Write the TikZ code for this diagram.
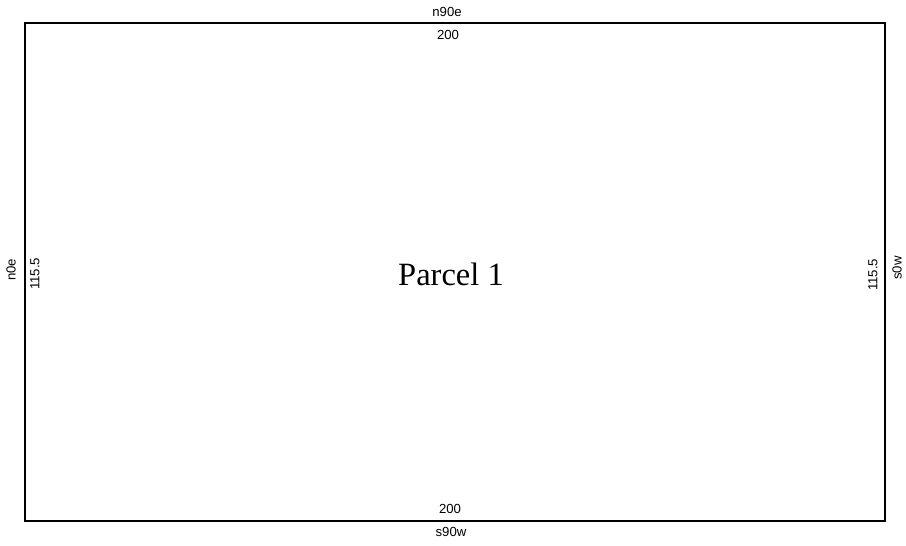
\documentclass[tikz,border=0pt]{standalone}
\usepackage{fontspec}
\setmainfont{Liberation Serif}
\newfontfamily\labelfont{Liberation Sans}
\usepackage{tikz}

\begin{document}
\begin{tikzpicture}[x=0.02cm,y=-0.02cm,
  side/.style={font=\labelfont\fontsize{7.5}{8}\selectfont,inner sep=0pt},
  vside/.style={side,rotate=90}]
  \useasboundingbox (0,0) rectangle (906,546);
  \draw[line width=1.4pt](25,23) rectangle (885,521);
  \node[font=\fontsize{18.5}{20}\selectfont] (parcel) at (451,274) {Parcel 1};
  \node[side] (topbearing) at (447,12) {n90e};
  \node[side] (toplength) at (448,35) {200};
  \node[side] (botlength) at (450,509) {200};
  \node[side] (botbearing) at (451,532) {s90w};
  \node[vside] (leftbearing) at (11,270) {n0e};
  \node[vside] (leftlength) at (35,274) {115.5};
  \node[vside] (rightlength) at (873,275) {115.5};
  \node[vside] (rightbearing) at (897,268) {s0w};
\end{tikzpicture}
\end{document}
